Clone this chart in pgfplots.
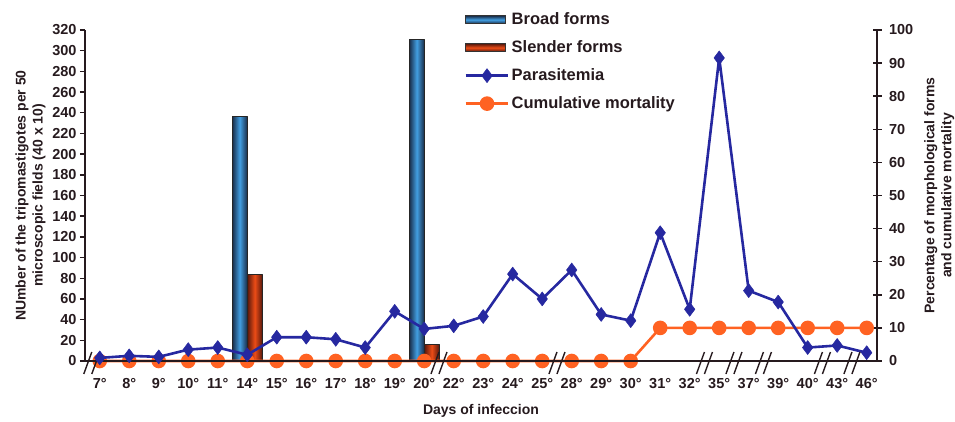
\documentclass[border=0pt]{standalone}
\usepackage{fontspec}
\setmainfont{Liberation Sans}
\usepackage{pgfplots}
\usepackage{pgfplotstable}
\pgfplotsset{compat=1.18}

\definecolor{parblue}{RGB}{38,40,160}
\definecolor{mortorange}{RGB}{255,98,34}
\definecolor{axisdark}{RGB}{38,26,30}
\definecolor{broaddark}{RGB}{24,44,72}
\definecolor{broadlight}{RGB}{66,158,225}
\definecolor{slenderdark}{RGB}{88,24,12}
\definecolor{slenderlight}{RGB}{236,76,22}

% bar fills: dark edges, light centre
\pgfdeclarehorizontalshading{broadH}{100bp}{color(0bp)=(broaddark); color(25bp)=(broaddark); color(50bp)=(broadlight); color(75bp)=(broaddark); color(100bp)=(broaddark)}
\pgfdeclarehorizontalshading{slenderH}{100bp}{color(0bp)=(slenderdark); color(25bp)=(slenderdark); color(50bp)=(slenderlight); color(75bp)=(slenderdark); color(100bp)=(slenderdark)}
\pgfdeclareverticalshading{broadV}{100bp}{color(0bp)=(broaddark); color(25bp)=(broaddark); color(50bp)=(broadlight); color(75bp)=(broaddark); color(100bp)=(broaddark)}
\pgfdeclareverticalshading{slenderV}{100bp}{color(0bp)=(slenderdark); color(25bp)=(slenderdark); color(50bp)=(slenderlight); color(75bp)=(slenderdark); color(100bp)=(slenderdark)}

% idx = category position, day = day of infection
\pgfplotstableread{
idx day par mort
0  7   3   0
1  8   5   0
2  9   4   0
3  10  11  0
4  11  13  0
5  14  6   0
6  15  23  0
7  16  23  0
8  17  21  0
9  18  13  0
10 19  48  0
11 20  31  0
12 22  34  0
13 23  43  0
14 24  84  0
15 25  60  0
16 28  88  0
17 29  45  0
18 30  39  0
19 31  124 10
20 32  50  10
21 35  293 10
22 37  68  10
23 39  57  10
24 40  13  10
25 43  15  10
26 46  8   10
}\infection

\newcommand{\tickfont}{\fontsize{14.5}{16}\selectfont\bfseries}
\newcommand{\labfont}{\fontsize{14}{17}\selectfont\bfseries}

\pgfplotsset{
  frame/.style={
    scale only axis, width=792pt, height=331pt,
    at={(85pt,60pt)}, anchor=south west,
    xmin=-0.5, xmax=26.35,
    clip=false,
    /pgf/number format/assume math mode=true,
    every axis plot/.append style={line join=round},
    axis line style={axisdark, line width=1.4pt},
    tick style={axisdark, line width=1.4pt},
    ticklabel style={font=\tickfont, text=axisdark},
    label style={font=\labfont, text=axisdark},
  },
  broadbar/.style={ybar, bar width=15pt, bar shift=-7.5pt,
    draw=black!85, line width=0.9pt, shading=broadH},
  slenderbar/.style={ybar, bar width=15pt, bar shift=7.5pt,
    draw=black!85, line width=0.9pt, shading=slenderH},
  barlegend/.style={legend image code/.code={
      \draw[##1, line width=0.8pt] (0cm,-4pt) rectangle (1.4cm,4pt);}},
  linelegend/.style={legend image code/.code={
      \draw[mark repeat=2, mark phase=2, ##1]
        plot coordinates {(0cm,0cm) (0.75cm,0cm) (1.5cm,0cm)};}},
}

\begin{document}
\begin{tikzpicture}
\useasboundingbox (0,0) rectangle (955pt,421pt);

% right axis: percentages of morphological forms and cumulative mortality
\begin{axis}[
  frame,
  axis x line=none,
  axis y line*=right,
  ymin=0, ymax=100,
  ytick={0,10,...,100},
  tick align=center, major tick length=9pt,
  yticklabel style={xshift=4pt},
  ylabel={Percentage of morphological forms\\and cumulative mortality},
  ylabel style={align=center, yshift=-4pt},
]
% one plot per bar, so that each bar carries its own shading
\addplot[broadbar] coordinates {(5,74)};
\addplot[broadbar] coordinates {(11,97)};
\addplot[slenderbar] coordinates {(5,26)};
\addplot[slenderbar] coordinates {(11,5)};
\addplot[sharp plot, mortorange, line width=2.6pt,
  mark=*, mark size=6pt, mark options={fill=mortorange, draw=mortorange}]
  table[x=idx, y=mort] {\infection};
\end{axis}

% left axis: parasitemia
\begin{axis}[
  frame,
  axis x line*=bottom,
  axis y line*=left,
  ymin=0, ymax=320,
  ytick={0,20,...,320},
  tick align=outside, major tick length=5pt,
  xtick={0,...,26},
  xticklabels={7°,8°,9°,10°,11°,14°,15°,16°,17°,18°,19°,20°,22°,23°,24°,25°,28°,29°,30°,31°,32°,35°,37°,39°,40°,43°,46°},
  x tick style={draw=none},
  minor xtick={-0.5,0.5,...,26.5},
  minor x tick style={axisdark, line width=2pt},
  minor tick length=3pt,
  xticklabel style={yshift=-9pt},
  xlabel={Days of infeccion},
  xlabel style={yshift=-9pt},
  ylabel={NUmber of the tripomastigotes per 50\\microscopic fields (40 x 10)},
  ylabel style={align=center, yshift=0pt},
  legend style={at={(0.475,1.064)}, anchor=north west, draw=none, fill=none,
    font=\fontsize{16.5}{19}\selectfont\bfseries, text=axisdark,
    row sep=10.5pt, cells={anchor=west},
    legend cell align=left},
]
\addlegendimage{barlegend, draw=black!80, shading=broadV}
\addlegendentry{Broad forms}
\addlegendimage{barlegend, draw=black!80, shading=slenderV}
\addlegendentry{Slender forms}
\addplot[linelegend, sharp plot, parblue, line width=2.6pt,
  mark=diamond*, mark size=7pt, mark options={fill=parblue, draw=parblue, line width=0.5pt}]
  table[x=idx, y=par] {\infection};
\addlegendentry{Parasitemia}
\addlegendimage{linelegend, sharp plot, mortorange, line width=2.6pt,
  mark=*, mark size=6pt, mark options={fill=mortorange, draw=mortorange}}
\addlegendentry{Cumulative mortality}

% axis breaks on the day scale
\pgfplotsinvokeforeach{-0.27,11.5,15.5,20.5,21.5,22.5,24.5,25.5}{
  \draw[axisdark, line width=1.4pt]
    (axis cs:#1,0) ++(-8pt,-13pt) -- ++(8pt,22pt);
  \draw[axisdark, line width=1.4pt]
    (axis cs:#1,0) ++(0pt,-13pt) -- ++(8pt,22pt);
}
\end{axis}
\end{tikzpicture}
\end{document}
